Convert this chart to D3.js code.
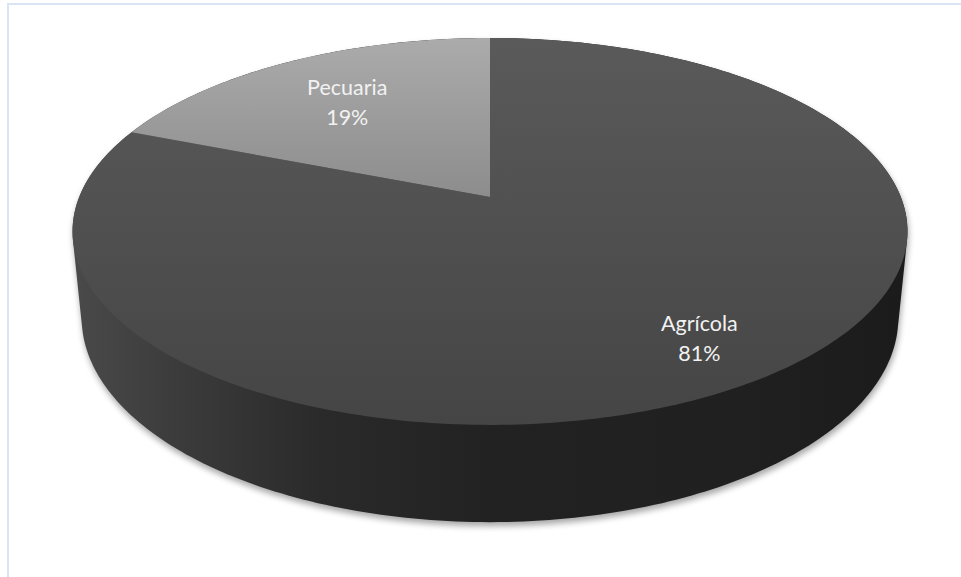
<!DOCTYPE html>
<html>
<head>
<meta charset="utf-8">
<script src="https://cdn.jsdelivr.net/npm/d3@7"></script>
<style>
  html, body { margin: 0; padding: 0; background: #fff; }
  svg { display: block; }
</style>
</head>
<body>
<svg id="chart" width="961" height="577"></svg>
<script>
// ---- data ----
const categories = ["Agrícola", "Pecuaria"];
const values = [81, 19];
const percentLabels = ["81%", "19%"];

// ---- layout / style ----
const W = 961, H = 577;
const cx = 490, cy = 197;           // projected centre of top face
const f = 2054, D = 5;              // perspective (radius = 1)
const alpha = 27.13 * Math.PI / 180;
const depth = 0.238;                // thickness of the pie relative to radius
const labelRadius = [0.80, 0.68];
const sinA = Math.sin(alpha), cosA = Math.cos(alpha);

function project(x, Y, z) {
  const d = D - Y * sinA - z * cosA;
  return [cx + f * x / d, cy - f * (Y * cosA - z * sinA) / d];
}
function rimPoint(theta, Y, rho = 1) {
  return project(rho * Math.sin(theta), Y, -rho * Math.cos(theta));
}

const svg = d3.select("#chart");
const defs = svg.append("defs");

// border
svg.append("rect").attr("x", 8).attr("y", 4).attr("width", W + 20).attr("height", H + 20)
  .attr("fill", "none").attr("stroke", "#dae5f3").attr("stroke-width", 2);

// gradients
const topGrads = [
  { id: "gTop0", stops: [[0, "#5a5a5a"], [1, "#454545"]], y1: 38, y2: 425 },
  { id: "gTop1", stops: [[0, "#ababab"], [1, "#8c8c8c"]], y1: 38, y2: 200 }
];
topGrads.forEach(g => {
  const lg = defs.append("linearGradient").attr("id", g.id)
    .attr("gradientUnits", "userSpaceOnUse")
    .attr("x1", 0).attr("x2", 0).attr("y1", g.y1).attr("y2", g.y2);
  g.stops.forEach(s => lg.append("stop").attr("offset", s[0]).attr("stop-color", s[1]));
});
const sideGrad = defs.append("linearGradient").attr("id", "gSide")
  .attr("gradientUnits", "userSpaceOnUse")
  .attr("x1", 72).attr("x2", 908).attr("y1", 0).attr("y2", 0);
[[0, "#4a4a4a"], [0.12, "#3c3c3c"], [0.3, "#2a2a2a"], [0.5, "#222222"], [0.8, "#202020"], [1, "#1b1b1b"]]
  .forEach(s => sideGrad.append("stop").attr("offset", s[0]).attr("stop-color", s[1]));

const blur = defs.append("filter").attr("id", "shadow")
  .attr("x", "-10%").attr("y", "-10%").attr("width", "120%").attr("height", "130%");
blur.append("feGaussianBlur").attr("stdDeviation", 3);

// pie angles
const pie = d3.pie().sort(null).value(d => d)(values);

// side wall (convex hull of top and bottom rims)
const N = 360;
const rimPts = [];
for (let i = 0; i < N; i++) {
  const t = i / N * 2 * Math.PI;
  rimPts.push(rimPoint(t, 0));
  rimPts.push(rimPoint(t, -depth));
}
const hull = d3.polygonHull(rimPts);
const line = d3.line().curve(d3.curveLinearClosed);

svg.append("path").attr("d", line(hull.map(p => [p[0] + 1, p[1] + 4])))
  .attr("fill", "#000").attr("opacity", 0.35).attr("filter", "url(#shadow)");
svg.append("path").attr("d", line(hull)).attr("fill", "url(#gSide)");

// top faces
pie.forEach((a, i) => {
  const pts = [project(0, 0, 0)];
  const steps = Math.max(4, Math.ceil((a.endAngle - a.startAngle) / (Math.PI / 180)));
  for (let s = 0; s <= steps; s++) {
    const t = a.startAngle + (a.endAngle - a.startAngle) * s / steps;
    pts.push(rimPoint(t, 0));
  }
  svg.append("path").attr("d", line(pts)).attr("fill", `url(#gTop${i})`);
});

// labels
pie.forEach((a, i) => {
  const mid = (a.startAngle + a.endAngle) / 2;
  const p = rimPoint(mid, 0, labelRadius[i]);
  const t = svg.append("text").attr("x", p[0]).attr("y", p[1] - 6)
    .attr("text-anchor", "middle")
    .attr("font-family", "Lato, 'Open Sans', sans-serif")
    .attr("font-size", 21.5).attr("fill", "#f2f2f2");
  t.append("tspan").attr("x", p[0]).attr("dy", 0).text(categories[i]);
  t.append("tspan").attr("x", p[0]).attr("dy", 30).text(percentLabels[i]);
});
</script>
</body>
</html>
